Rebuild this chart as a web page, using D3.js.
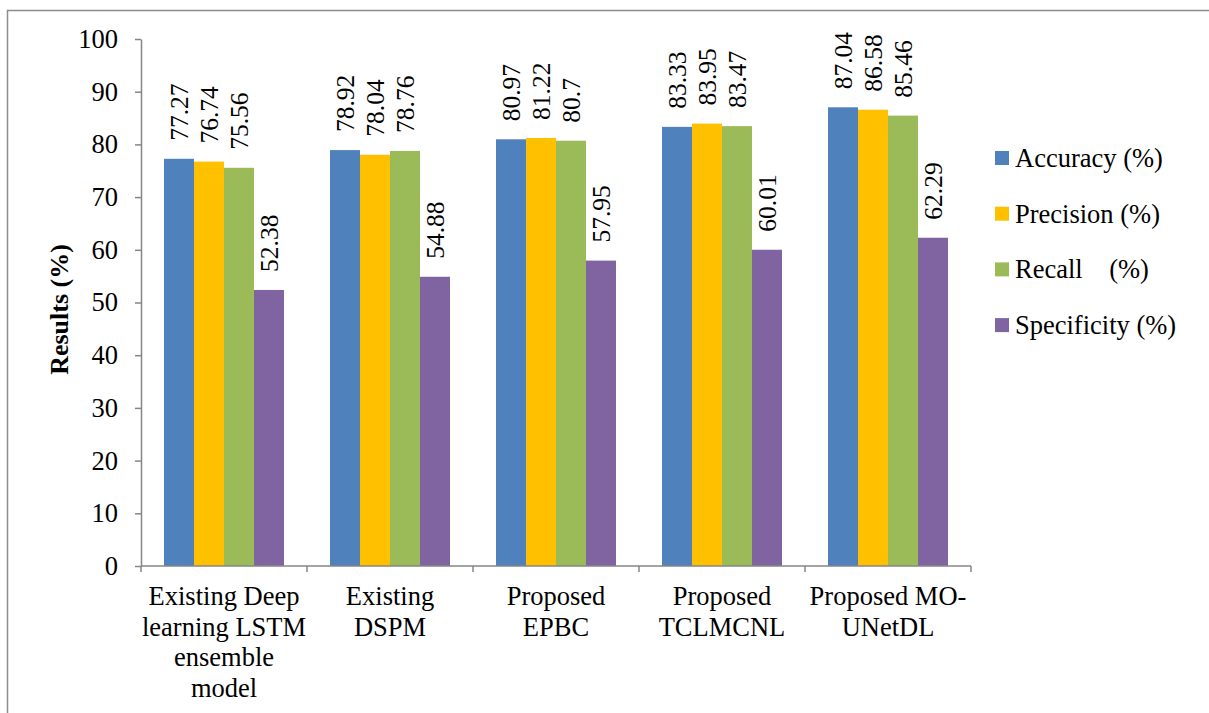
<!DOCTYPE html>
<html>
<head>
<meta charset="utf-8">
<script src="https://cdn.jsdelivr.net/npm/d3@7"></script>
<style>
  html, body { margin: 0; padding: 0; background: #fff; }
  svg { display: block; }
  text { font-family: "Liberation Serif", "Times New Roman", serif; fill: #000; }
</style>
</head>
<body>
<svg id="chart" width="1209" height="713"></svg>
<script>
// Model names (category labels, one array entry per line)
const categories = [
  ["Existing Deep", "learning LSTM", "ensemble", "model"],
  ["Existing", "DSPM"],
  ["Proposed", "EPBC"],
  ["Proposed", "TCLMCNL"],
  ["Proposed MO-", "UNetDL"]
];
const seriesNames = ["Accuracy (%)", "Precision (%)", "Recall    (%)", "Specificity (%)"];
const accuracy    = [77.27, 78.92, 80.97, 83.33, 87.04];
const precision   = [76.74, 78.04, 81.22, 83.95, 86.58];
const recall      = [75.56, 78.76, 80.7, 83.47, 85.46];
const specificity = [52.38, 54.88, 57.95, 60.01, 62.29];
const yTicks = [0, 10, 20, 30, 40, 50, 60, 70, 80, 90, 100];
const colors = ["#4F81BD", "#FFC000", "#9BBB59", "#8064A2"];

const series = [accuracy, precision, recall, specificity];
const catIds = categories.map((_, i) => i);

const svg = d3.select("#chart");
const plot = { left: 141, right: 971, top: 39, bottom: 566 };
const axisColor = "#868686";
const fs = 26.5;

// outer frame
svg.append("path")
  .attr("d", "M7.5,713 L7.5,10.5 L1209,10.5")
  .attr("fill", "none").attr("stroke", "#8c8c8c").attr("stroke-width", 1.5);

const y = d3.scaleLinear().domain([0, 100]).range([plot.bottom, plot.top]);
const xCat = d3.scaleBand().domain(catIds).range([plot.left, plot.right]).padding(0);
const x0 = d3.scaleBand().domain(catIds).range([plot.left, plot.right])
  .paddingInner(0.277).paddingOuter(0.1385);
const x1 = d3.scaleBand().domain(d3.range(series.length)).range([0, x0.bandwidth()]);

// y axis
const yAxis = svg.append("g")
  .attr("transform", `translate(${plot.left},0)`)
  .call(d3.axisLeft(y).tickValues(yTicks).tickSize(6).tickSizeOuter(0).tickPadding(17));
yAxis.select(".domain").attr("stroke", axisColor).attr("stroke-width", 1.5);
yAxis.selectAll(".tick line").attr("stroke", axisColor).attr("stroke-width", 1.5);
yAxis.selectAll(".tick text")
  .attr("font-family", "Liberation Serif").attr("font-size", fs).attr("fill", "#000");

// bars
const groups = svg.append("g").selectAll("g")
  .data(catIds).join("g")
  .attr("transform", d => `translate(${x0(d)},0)`);

groups.selectAll("rect")
  .data(c => series.map((s, k) => ({ k, v: s[c] })))
  .join("rect")
  .attr("x", d => x1(d.k))
  .attr("width", x1.bandwidth())
  .attr("y", d => y(d.v))
  .attr("height", d => y(0) - y(d.v))
  .attr("fill", d => colors[d.k]);

// rotated value labels
groups.selectAll("text.val")
  .data(c => series.map((s, k) => ({ k, v: s[c] })))
  .join("text")
  .attr("class", "val")
  .attr("transform", d => `translate(${x1(d.k) + x1.bandwidth() / 2 + 9},${y(d.v) - 18}) rotate(-90)`)
  .attr("font-size", fs - 1)
  .text(d => String(d.v));

// x axis line and category boundary ticks
const xa = svg.append("g");
xa.append("line")
  .attr("x1", plot.left).attr("x2", plot.right)
  .attr("y1", plot.bottom).attr("y2", plot.bottom)
  .attr("stroke", axisColor).attr("stroke-width", 1.5);
xa.selectAll("line.tick")
  .data(catIds.map(c => xCat(c)).concat([plot.right]))
  .join("line").attr("class", "tick")
  .attr("x1", d => d).attr("x2", d => d)
  .attr("y1", plot.bottom).attr("y2", plot.bottom + 6)
  .attr("stroke", axisColor).attr("stroke-width", 1.5);

// category labels
const catLabels = xa.selectAll("text.cat")
  .data(catIds).join("text")
  .attr("class", "cat")
  .attr("x", c => xCat(c) + xCat.bandwidth() / 2)
  .attr("y", 605)
  .attr("text-anchor", "middle")
  .attr("font-size", fs);
catLabels.selectAll("tspan")
  .data(c => categories[c])
  .join("tspan")
  .attr("x", function () { return this.parentNode.getAttribute("x"); })
  .attr("dy", (d, i) => i === 0 ? 0 : 30.5)
  .text(d => d);

// y axis title
svg.append("text")
  .attr("transform", `translate(68,${(plot.top + plot.bottom) / 2 + 7}) rotate(-90)`)
  .attr("text-anchor", "middle")
  .attr("font-size", 26)
  .attr("font-weight", "bold")
  .text("Results (%)");

// legend
const legend = svg.append("g").attr("transform", "translate(995,158)");
const items = legend.selectAll("g").data(seriesNames).join("g")
  .attr("transform", (d, i) => `translate(0,${i * 55.7})`);
items.append("rect")
  .attr("x", 0).attr("y", -7).attr("width", 14).attr("height", 14)
  .attr("fill", (d, i) => colors[i]);
items.append("text")
  .attr("x", 20).attr("y", 9)
  .attr("font-size", fs)
  .attr("xml:space", "preserve")
  .style("white-space", "pre")
  .text(d => d);
</script>
</body>
</html>
